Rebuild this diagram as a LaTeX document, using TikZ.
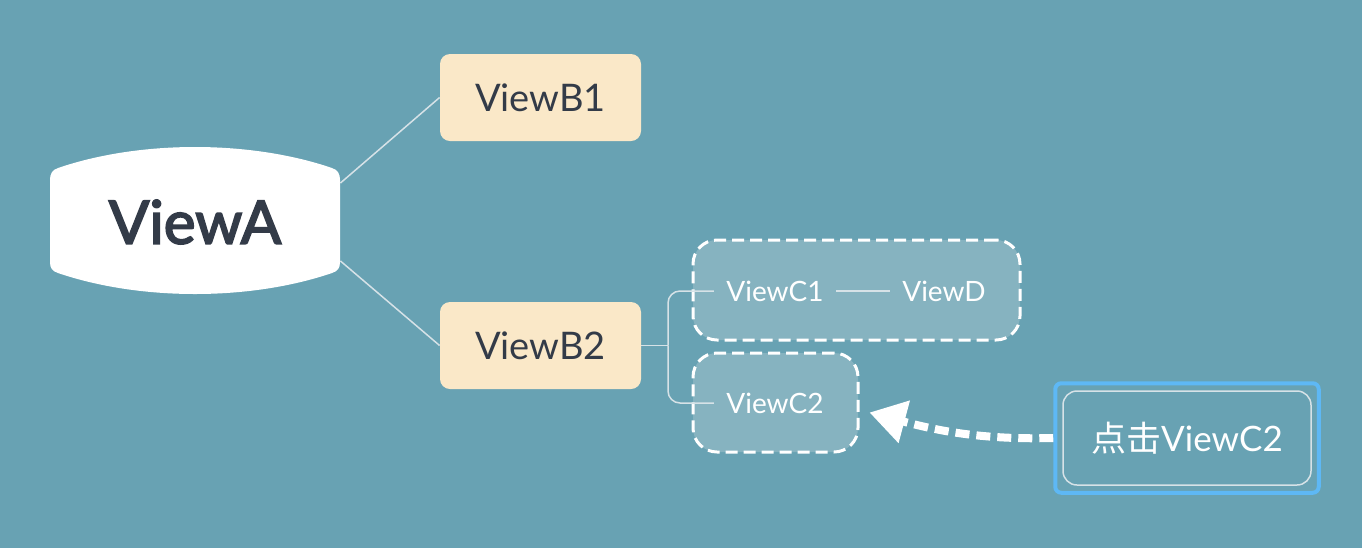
\documentclass[tikz,border=0pt]{standalone}
\usepackage{fontspec}
\setmainfont{Lato}
\newfontfamily\cjk{Noto Sans CJK SC}
\newfontfamily\semibold{Lato}[FakeBold=3]
\usetikzlibrary{arrows.meta}
\definecolor{bgblue}{RGB}{104,162,179}
\definecolor{boxblue}{RGB}{134,179,192}
\definecolor{cream}{RGB}{250,232,200}
\definecolor{ink}{RGB}{51,59,72}
\definecolor{wire}{RGB}{214,226,231}
\definecolor{selblue}{RGB}{94,184,245}
\tikzset{
  viewB/.style = {rectangle, rounded corners=5pt, fill=cream, text=ink,
                  minimum width=100.5pt, minimum height=43.5pt,
                  font=\fontsize{19}{22}\selectfont},
  viewC/.style = {text=white, inner sep=6pt,
                  font=\fontsize{14}{16}\selectfont},
  dashbox/.style = {rectangle, rounded corners=12pt, fill=boxblue, draw=white,
                    line width=1.5pt, dash pattern=on 6pt off 3pt},
  link/.style = {draw=wire, line width=0.75pt}
}

\begin{document}
\begin{tikzpicture}[x=0.5pt, y=-0.5pt]
	\def \r{6pt}
	
	% Background
	\fill[bgblue] (0,0) rectangle (1362,548);
	\useasboundingbox (0,0) rectangle (1362,548);
	
	% ViewA
	\fill[white] (58,168) .. controls (140,140) and (250,140) .. (332,168)
		.. controls (338,170) and (340,174) .. (340,180) -- (340,262)
		.. controls (340,268) and (338,271) .. (332,273)
		.. controls (250,301) and (140,301) .. (58,273)
		.. controls (52,271) and (50,268) .. (50,262) -- (50,180)
		.. controls (50,174) and (52,170) .. (58,168) -- cycle;
	\node[minimum width=145pt, minimum height=50pt, text=ink,
		font=\fontsize{30}{34}\semibold] (viewA) at (195,222) {ViewA};
	
	% ViewB
	\node[viewB] (viewB1) at (540.5,97.5) {ViewB1};
	\node[viewB] (viewB2) at (540.5,345.5) {ViewB2};
	
	% ViewC boxes
	\node[dashbox, minimum width=163.5pt, minimum height=50pt] (boxC1) at (856.5,290) {};
	\node[dashbox, minimum width=82.5pt, minimum height=49.5pt] (boxC2) at (775.5,402.5) {};
	
	\node[viewC] (viewC1) at (775,291) {ViewC1};
	\node[viewC] (viewD) at (944,291) {ViewD};
	\node[viewC] (viewC2) at (775,403) {ViewC2};
	\coordinate (fork) at (668,345.5);
	
	% Links
	\draw[link] (viewA.15) -- (viewB1.west);
	\draw[link] (viewA.-15) -- (viewB2.west);
	\draw[link] (viewB2.east) -- (fork);
	\draw[link, rounded corners=\r] (fork) |- (viewC1.west);
	\draw[link, rounded corners=\r] (fork) |- (viewC2.west);
	\draw[link] (viewC1.east) -- (viewD.west);
	
	% Click hint
	\node[draw=wire, line width=0.75pt, rounded corners=7pt, text=white,
		minimum width=124pt, minimum height=47pt,
		font=\fontsize{17.5}{20}\selectfont] (click) at (1187,438) {{\cjk 点击}ViewC2};
	\draw[selblue, line width=2pt, rounded corners=3pt]
		([shift={(-3.5pt,3.5pt)}]click.north west) rectangle ([shift={(3.5pt,-3.5pt)}]click.south east);
	\draw[white, line width=4pt, dash pattern=on 7pt off 3.5pt,
		-{Triangle[length=18pt, width=21pt]}]
		([xshift=-4.5pt]click.west) .. controls (980,440) and (935,430) .. ([shift={(5pt,-5pt)}]boxC2.east);
	
\end{tikzpicture}
\end{document}
